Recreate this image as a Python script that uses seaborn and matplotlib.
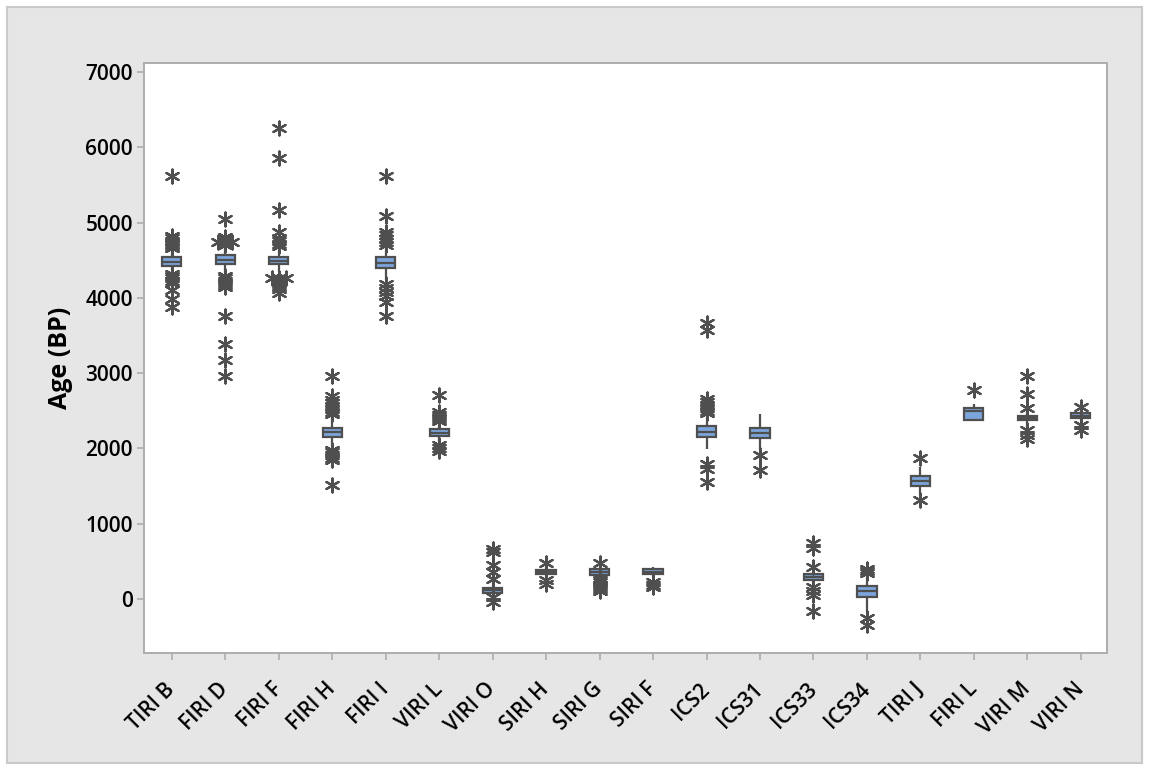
from collections import Counter, defaultdict

import matplotlib
matplotlib.use("Agg")
import matplotlib.pyplot as plt
from matplotlib.patches import Rectangle
import pandas as pd
import seaborn as sns

# Radiocarbon sample groups, in display order
samples = ["TIRI B", "FIRI D", "FIRI F", "FIRI H", "FIRI I", "VIRI L", "VIRI O",
           "SIRI H", "SIRI G", "SIRI F", "ICS2", "ICS31", "ICS33", "ICS34",
           "TIRI J", "FIRI L", "VIRI M", "VIRI N"]

# Five-number summaries (years BP)
whisker_low = [4347, 4330, 4340, 2015, 4236, 2089, 53, 290, 290, 290,
               1988, 1979, 208, -168, 1381, 2377, 2288, 2380]
q1 = [4418, 4445, 4449, 2155, 4391, 2165, 84, 330, 325, 332,
      2155, 2138, 252, 31, 1501, 2377, 2377, 2399]
median = [4479, 4506, 4493, 2218, 4458, 2209, 120, 359, 359, 363,
          2222, 2209, 296, 106, 1567, 2497, 2408, 2434]
q3 = [4538, 4568, 4538, 2275, 4538, 2254, 150, 388, 394, 394,
      2297, 2275, 332, 173, 1633, 2541, 2434, 2466]
whisker_high = [4640, 4665, 4640, 2421, 4678, 2311, 208, 430, 430, 429,
                2443, 2452, 363, 319, 1757, 2585, 2487, 2505]

# Outlying laboratory results per group (years BP)
outliers = [
    [5617, 4820, 4790, 4760, 4740, 4720, 4700, 4680, 4660,
     4320, 4290, 4260, 4230, 4200, 4103, 3980, 3882],
    [5043, 4811, 4777, 4745, 4745, 4745, 4701,
     4290, 4260, 4230, 4200, 4170, 4140, 3758, 3386, 3174, 2962],
    [6251, 5861, 5166, 4870, 4800, 4760, 4720, 4690,
     4265, 4265, 4265, 4236, 4210, 4180, 4150, 4120, 4070],
    [2961, 2700, 2650, 2610, 2570, 2530, 2490, 2460,
     1985, 1950, 1910, 1870, 1840, 1514],
    [5617, 5086, 4880, 4830, 4780, 4740, 4700,
     4180, 4130, 4080, 4030, 3948, 3758],
    [2709, 2490, 2450, 2420, 2390, 2360, 2040, 2000, 1970],
    [670, 630, 450, 365, 262, 30, -40],
    [485, 250, 200],
    [474, 280, 250, 220, 190, 160, 130, 100],
    [225, 190, 160],
    [3660, 3580, 2660, 2620, 2580, 2540, 2500, 2470, 1800, 1730, 1558],
    [1912, 1713],
    [748, 673, 429, 163, 110, 60, -155],
    [400, 370, 345, -257, -345],
    [1868, 1315],
    [2775],
    [2961, 2722, 2532, 2240, 2180, 2120],
    [2545, 2310, 2250],
]

y_ticks = [0, 1000, 2000, 3000, 4000, 5000, 6000, 7000]

BOX_BLUE = "#7BA5DB"
DARK = "#4F4F4F"
FRAME = "#ADADAD"

sns.set_theme(style="ticks")
plt.rcParams["font.family"] = ["Open Sans", "DejaVu Sans"]

# Box table: each group's five summary values, so the quartiles fall exactly on them
box_rows = []
for i, name in enumerate(samples):
    for v in (whisker_low[i], q1[i], median[i], q3[i], whisker_high[i]):
        box_rows.append({"sample": name, "age": v})
box_df = pd.DataFrame(box_rows)

# Outlier table: tied values are set side by side around the category centre
out_rows = []
for i, (name, vals) in enumerate(zip(samples, outliers)):
    counts = Counter(vals)
    seen = defaultdict(int)
    for v in vals:
        k = counts[v]
        j = seen[v]
        seen[v] += 1
        out_rows.append({"xpos": i + (j - (k - 1) / 2) * 0.13, "age": v})
out_df = pd.DataFrame(out_rows)

fig = plt.figure(figsize=(11.49, 7.70), dpi=100, facecolor="white")
fig.patches.append(Rectangle((7 / 1149, 7 / 770), 1135 / 1149, 756 / 770,
                             transform=fig.transFigure, facecolor="#E6E6E6",
                             edgecolor="#C9C9C9", linewidth=1.5, zorder=-10))

ax = fig.add_axes([144 / 1149, 1 - 653 / 770, 963 / 1149, 590 / 770])
ax.set_zorder(1)
ax.set_facecolor("white")

sns.boxplot(data=box_df, x="sample", y="age", order=samples, color=BOX_BLUE,
            saturation=1, width=0.36, whis=(0, 100), showfliers=False,
            showcaps=False, linewidth=1.6, linecolor=DARK, ax=ax)

sns.scatterplot(data=out_df, x="xpos", y="age", marker=(6, 2, 0), s=100,
                color=DARK, edgecolor=DARK, linewidth=1.6, ax=ax, zorder=4,
                legend=False)

ax.set_xlim(-0.52, len(samples) - 0.51)
ax.set_ylim(-717, 7120)
ax.set_yticks(y_ticks)
ax.set_yticklabels([str(t) for t in y_ticks])
ax.set_xticks(range(len(samples)))
ax.set_xticklabels(samples)

for side in ("left", "right", "top", "bottom"):
    ax.spines[side].set_visible(True)
    ax.spines[side].set_color(FRAME)
    ax.spines[side].set_linewidth(1.4)

ax.tick_params(axis="both", direction="out", length=5, width=1.2, color=FRAME,
               labelsize=15, labelcolor="black")
ax.tick_params(axis="y", pad=3)
ax.tick_params(axis="x", pad=19)
for lab in ax.get_yticklabels():
    lab.set_fontweight("semibold")
for lab in ax.get_xticklabels():
    lab.set_fontweight("semibold")
    lab.set_rotation(45)
    lab.set_ha("right")
    lab.set_va("center")
    lab.set_rotation_mode("anchor")

ax.set_xlabel("")
ax.set_ylabel("Age (BP)", fontsize=18, fontweight="bold", color="black")
ax.yaxis.set_label_coords(-0.074, 0.5)

fig.savefig("out.png", dpi=100, facecolor=fig.get_facecolor())
